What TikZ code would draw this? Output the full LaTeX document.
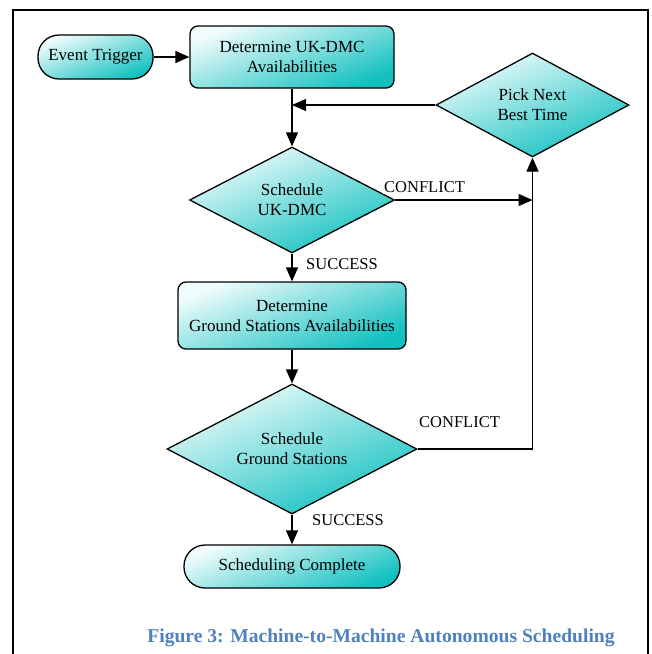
\documentclass[tikz,border=0pt]{standalone}
\usepackage{fontspec}
\setmainfont{Liberation Serif}
\usetikzlibrary{shapes.geometric, arrows.meta, positioning}
\definecolor{flowlight}{RGB}{240, 252, 252}
\definecolor{flowteal}{RGB}{18, 192, 192}
\definecolor{captionblue}{RGB}{79, 129, 189}

\begin{document}
\begin{tikzpicture}[x=1pt, y=-1pt,
  flowfill/.style={draw=black, line width=1.3pt, top color=flowlight, bottom color=flowteal, shading angle=22, font=\fontsize{17}{20}\selectfont, align=center, inner sep=0pt},
  procbox/.style={flowfill, rectangle, rounded corners=8pt},
  capsule/.style={flowfill, rectangle, rounded corners=21pt},
  decision/.style={flowfill, diamond},
  flowarrow/.style={line width=1.3pt, -{Triangle[length=14pt, width=12pt]}},
  flowlabel/.style={font=\fontsize{16.5}{19}\selectfont, inner sep=1pt}]
\useasboundingbox (0,0) rectangle (652,654);

% Frame
\draw[line width=1.3pt] (13,10) rectangle (648,680);

% Nodes
\node[capsule, minimum width=115pt, minimum height=44pt] (trigger) at (95.5,57) {Event Trigger};
\node[procbox, minimum width=204pt, minimum height=62pt] (ukavail) at (292,57) {Determine UK-DMC\\Availabilities};
\node[decision, minimum width=193pt, minimum height=104pt, aspect=1.86] (picknext) at (532.5,105) {Pick Next\\Best Time};
\node[decision, minimum width=205pt, minimum height=106pt, aspect=1.93] (ukdec) at (292,200) {Schedule\\UK-DMC};
\node[procbox, minimum width=228pt, minimum height=67pt] (gsavail) at (292,315.5) {Determine\\Ground Stations Availabilities};
\node[decision, minimum width=250pt, minimum height=130pt, aspect=1.92] (gsdec) at (292,449) {Schedule\\Ground Stations};
\node[capsule, minimum width=216pt, minimum height=43pt] (done) at (292,566.5) {Scheduling Complete};

% Joins
\coordinate (merge) at (ukavail.south |- picknext.west);
\coordinate (retry) at (picknext.south |- ukdec.east);

% Connectors
\draw[flowarrow] (trigger) -- (ukavail);
\draw[line width=1.3pt] (ukavail.south) -- (merge);
\draw[flowarrow] (merge) -- (ukdec.north);
\draw[flowarrow] (picknext.west) -- (merge);
\draw[flowarrow] (ukdec.east) -- (retry);
\draw[flowarrow] (gsdec.east) -| (picknext.south);
\draw[flowarrow] (ukdec.south) -- (gsavail.north);
\draw[flowarrow] (gsavail.south) -- (gsdec.north);
\draw[flowarrow] (gsdec.south) -- (done.north);

% Branch labels
\node[flowlabel, fill=white, anchor=west] (conflict1) at (383,187) {CONFLICT};
\node[flowlabel, anchor=west] (success1) at (305,264) {SUCCESS};
\node[flowlabel, anchor=west] (conflict2) at (418,422) {CONFLICT};
\node[flowlabel, anchor=west] (success2) at (311,520) {SUCCESS};

% Caption
\node[font=\fontsize{19.6}{22}\selectfont\bfseries, text=captionblue] (caption) at (381,638) {Figure 3: Machine-to-Machine Autonomous Scheduling};
\end{tikzpicture}
\end{document}
